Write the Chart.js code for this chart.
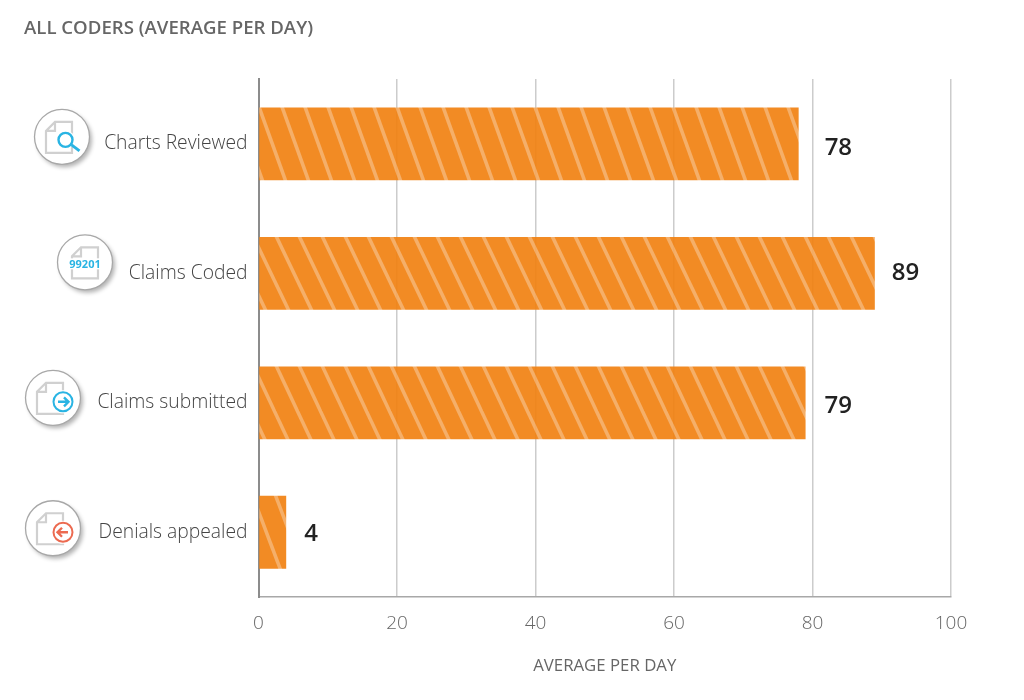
<!DOCTYPE html>
<html><head><meta charset="utf-8">
<style>html,body{margin:0;padding:0;background:#fff}canvas{display:block}</style>
<script src="https://cdn.jsdelivr.net/npm/chart.js@4"></script></head>
<body><canvas id="c" width="1024" height="700"></canvas>
<script>
const categories = ['Charts Reviewed','Claims Coded','Claims submitted','Denials appealed'];
const values = [78,89,79,4];
const xTicks = [0,20,40,60,80,100];
const titleText = 'ALL CODERS (AVERAGE PER DAY)';
const axisTitle = 'AVERAGE PER DAY';

// styling only
const stripeSlopes = [0.36,0.48,0.47,0.38];
const stripePhase = [13.6,2,12.5,19.7];
const labelGaps = [26,17,19,18];
const labelDy = [4,0,3,2];
const iconX = [62,85,53,53];
const iconDy = [-7,-11,-5,-4];
const iconKind = ['search','code','arrowR','arrowL'];
const FONT = '"Open Sans"';

function stripes(slope,phase){
  const w=23, h=Math.round(w/slope);
  const t=document.createElement('canvas'); t.width=w; t.height=h;
  const g=t.getContext('2d');
  g.fillStyle='rgb(241,129,17)'; g.fillRect(0,0,w,h);
  g.strokeStyle='rgb(244,168,92)'; g.lineWidth=3.6;
  for(let k=-3;k<=3;k++){
    const x=phase+k*w;
    g.beginPath(); g.moveTo(x-w,-h); g.lineTo(x+2*w,2*h); g.stroke();
  }
  g.globalCompositeOperation='destination-in';
  g.fillStyle='rgba(0,0,0,0.92)'; g.fillRect(0,0,w,h);
  return document.getElementById('c').getContext('2d').createPattern(t,'repeat');
}

function drawIcon(ctx,cx,cy,kind){
  const R=27.5;
  ctx.save();
  ctx.beginPath(); ctx.arc(cx,cy,R,0,Math.PI*2);
  ctx.fillStyle='#fff'; ctx.shadowColor='rgba(0,0,0,0.3)'; ctx.shadowBlur=4; ctx.shadowOffsetX=2.5; ctx.shadowOffsetY=3; ctx.fill();
  ctx.shadowColor='transparent'; ctx.shadowBlur=0; ctx.shadowOffsetX=0; ctx.shadowOffsetY=0;
  ctx.strokeStyle='#a8a8a8'; ctx.lineWidth=1.3; ctx.stroke();
  const dx = kind==='code'?-13:-16, dy=-15, w=26, h=31;
  ctx.strokeStyle='#d0d0d0'; ctx.lineWidth=2.2; ctx.lineJoin='miter';
  ctx.beginPath();
  ctx.moveTo(cx+dx+9,cy+dy); ctx.lineTo(cx+dx+w,cy+dy); ctx.lineTo(cx+dx+w,cy+dy+h); ctx.lineTo(cx+dx,cy+dy+h); ctx.lineTo(cx+dx,cy+dy+9); ctx.closePath();
  ctx.moveTo(cx+dx+9,cy+dy); ctx.lineTo(cx+dx+9,cy+dy+9); ctx.lineTo(cx+dx,cy+dy+9);
  ctx.stroke();
  const blue='#29b4e3', red='#ec6a50';
  if(kind==='search'){
    const x=cx+3.5,y=cy+3;
    ctx.fillStyle='#fff'; ctx.beginPath(); ctx.arc(x,y,9.5,0,Math.PI*2); ctx.fill();
    ctx.strokeStyle=blue; ctx.lineWidth=2.4; ctx.beginPath(); ctx.arc(x,y,7,0,Math.PI*2); ctx.stroke();
    ctx.lineWidth=3; ctx.beginPath(); ctx.moveTo(x+6,y+5); ctx.lineTo(x+14,y+11); ctx.stroke();
  } else if(kind==='code'){
    ctx.fillStyle='#fff'; ctx.fillRect(cx-17,cy-4,34,11);
    ctx.fillStyle=blue; ctx.font='bold 11px '+FONT; ctx.textAlign='center'; ctx.textBaseline='middle';
    ctx.fillText('99201',cx,cy+3);
  } else {
    const col=kind==='arrowR'?blue:red, s=kind==='arrowR'?1:-1;
    const x=cx+10,y=cy+4;
    ctx.fillStyle='#fff'; ctx.beginPath(); ctx.arc(x,y,11.5,0,Math.PI*2); ctx.fill();
    ctx.strokeStyle=col; ctx.lineWidth=2; ctx.beginPath(); ctx.arc(x,y,9.5,0,Math.PI*2); ctx.stroke();
    ctx.lineWidth=2.4; ctx.beginPath();
    ctx.moveTo(x-5*s,y); ctx.lineTo(x+5*s,y); ctx.moveTo(x+1*s,y-4.5); ctx.lineTo(x+5.5*s,y); ctx.lineTo(x+1*s,y+4.5); ctx.stroke();
  }
  ctx.restore();
}

const decorations = {
  id:'decorations',
  afterDatasetsDraw(chart){
    const ctx=chart.ctx, meta=chart.getDatasetMeta(0), ys=chart.scales.y;
    ctx.save();
    ctx.font='600 24px '+FONT; ctx.fillStyle='#222'; ctx.textAlign='left'; ctx.textBaseline='middle';
    meta.data.forEach((bar,i)=>{ ctx.fillText(String(values[i]),bar.x+labelGaps[i],bar.y+labelDy[i]); });
    ctx.restore();
    categories.forEach((c,i)=>drawIcon(ctx,iconX[i],ys.getPixelForValue(i)+iconDy[i],iconKind[i]));
  }
};

new Chart(document.getElementById('c'),{
  type:'bar',
  plugins:[decorations],
  data:{labels:categories,datasets:[{
    data:values,
    backgroundColor:values.map((v,i)=>stripes(stripeSlopes[i],stripePhase[i])),
    borderWidth:0,barPercentage:0.75,categoryPercentage:0.75
  }]},
  options:{
    indexAxis:'y',responsive:false,animation:false,
    layout:{padding:{left:24,right:73,top:18,bottom:24}},
    plugins:{
      legend:{display:false},tooltip:{enabled:false},
      title:{display:true,text:titleText,align:'start',color:'#666',
        font:{family:FONT,size:18.6,weight:'600'},padding:{top:0,bottom:38.8}}
    },
    scales:{
      x:{min:0,max:100,
        afterBuildTicks(s){s.ticks=xTicks.map(v=>({value:v}));},
        afterFit(s){s.height=79;},
        grid:{color:'#cccccc',lineWidth:1.5,drawTicks:false},
        border:{display:true,color:'#a8a8a8',width:1.5},
        ticks:{color:'#666',padding:15,maxRotation:0,font:{family:FONT,size:19,weight:'300'}},
        title:{display:true,text:axisTitle,color:'#666',font:{family:FONT,size:16.8},padding:{top:18,bottom:0}}
      },
      y:{
        afterFit(s){s.width=234.5;},
        grid:{display:false,drawTicks:false},
        border:{display:true,color:'#8c8c8c',width:2},
        ticks:{color:'#444',padding:11,font:{family:FONT,size:19.3,weight:'300'}}
      }
    }
  }
});
</script></body></html>
